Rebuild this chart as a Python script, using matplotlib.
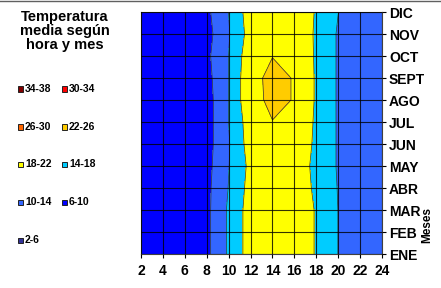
import matplotlib
matplotlib.use('Agg')
import matplotlib.pyplot as plt
from matplotlib.lines import Line2D
from matplotlib.patches import Rectangle
import numpy as np

# horas (columnas) y meses (filas)
horas = [2, 4, 6, 8, 10, 12, 14, 16, 18, 20, 22, 24]
meses = ['ENE', 'FEB', 'MAR', 'ABR', 'MAY', 'JUN', 'JUL', 'AGO', 'SEPT', 'OCT', 'NOV', 'DIC']

# temperatura media (C)
temp_ene = [9.2, 8.6, 8.3, 9.00, 14.56, 19.85, 21.2, 20.70, 17.70, 13.95, 12.5, 11.4]
temp_feb = [9.2, 8.6, 8.3, 9.00, 14.56, 19.85, 21.3, 20.70, 17.70, 13.95, 12.5, 11.4]
temp_mar = [9.1, 8.5, 8.2, 9.00, 14.56, 19.85, 21.3, 20.70, 17.70, 13.95, 12.6, 11.5]
temp_abr = [8.9, 8.3, 8.0, 8.97, 14.13, 19.47, 21.0, 20.65, 17.23, 13.83, 12.6, 11.5]
temp_may = [8.8, 8.2, 7.9, 8.71, 13.87, 19.03, 21.2, 19.98, 17.15, 13.65, 12.5, 11.5]
temp_jun = [8.7, 8.1, 7.8, 8.42, 13.69, 19.84, 21.5, 21.40, 17.15, 13.65, 12.4, 11.4]
temp_jul = [8.7, 8.1, 7.8, 8.28, 14.02, 20.14, 21.95, 20.27, 17.60, 13.60, 12.4, 11.4]
temp_ago = [8.7, 8.1, 7.8, 8.28, 14.02, 21.26, 22.49, 21.91, 17.57, 13.60, 12.4, 11.4]
temp_sep = [8.8, 8.2, 7.9, 8.66, 14.02, 21.26, 22.60, 21.89, 17.57, 13.60, 12.5, 11.5]
temp_oct = [9.0, 8.4, 8.1, 9.12, 14.02, 20.65, 21.95, 20.80, 17.60, 13.60, 12.5, 11.5]
temp_nov = [8.9, 8.3, 8.0, 8.53, 13.70, 19.63, 21.3, 20.27, 17.60, 13.60, 12.6, 11.5]
temp_dic = [9.0, 8.5, 8.2, 9.12, 14.02, 20.14, 21.4, 21.60, 17.60, 14.05, 13.0, 11.6]

# rangos de la leyenda
niveles = [2, 6, 10, 14, 18, 22, 26, 30, 34, 38]
colores = ['#333399', '#0000FF', '#3366FF', '#00CCFF', '#FFFF00',
           '#FFCC00', '#FF6600', '#FF0000', '#800000']
etiquetas = ['2-6', '6-10', '10-14', '14-18', '18-22', '22-26', '26-30', '30-34', '34-38']

Z = np.array([temp_ene, temp_feb, temp_mar, temp_abr, temp_may, temp_jun,
              temp_jul, temp_ago, temp_sep, temp_oct, temp_nov, temp_dic])
X, Y = np.meshgrid(horas, np.arange(1, 13))

plt.rcParams['font.family'] = ['Liberation Sans', 'DejaVu Sans']
fig = plt.figure(figsize=(4.41, 2.88), dpi=100)
ax = fig.add_axes([141 / 441, 34 / 288, 241 / 441, 242 / 288])

ax.contourf(X, Y, Z, levels=niveles, colors=colores)
ax.contour(X, Y, Z, levels=niveles, colors='#333333', linewidths=0.5)

ax.set_xlim(2, 24)
ax.set_ylim(1, 12)
ax.set_xticks(horas)
ax.set_yticks(range(1, 13))
ax.set_yticklabels(meses)
ax.yaxis.tick_right()
ax.tick_params(axis='both', labelsize=10, length=3, width=0.8, direction='out', pad=2)
ax.tick_params(axis='x', pad=4)
for lab in ax.get_xticklabels() + ax.get_yticklabels():
    lab.set_fontweight('bold')
ax.grid(True, color='black', linewidth=0.8, alpha=0.8)
ax.set_axisbelow(False)
for s in ax.spines.values():
    s.set_linewidth(0.8)
    s.set_color('#404040')

fig.text(427 / 441, 1 - 225 / 288, 'Meses', rotation=90, fontsize=8.5, fontweight='bold',
         ha='center', va='center')

# titulo a la izquierda
fig.text(65 / 441, 1 - 31 / 288, 'Temperatura\nmedia según\nhora y mes', fontsize=10.5,
         fontweight='bold', ha='center', va='center', linespacing=1.0)

# leyenda en dos columnas
filas_y = [89, 89, 127, 127, 164, 164, 202, 202, 240]
orden = [8, 7, 6, 5, 4, 3, 2, 1, 0]
for k, idx in enumerate(orden):
    col = k % 2
    yy = 1 - filas_y[k] / 288
    xm = (18 if col == 0 else 62) / 441
    fig.add_artist(Rectangle((xm, yy - 2.5 / 288), 5 / 441, 5 / 288, transform=fig.transFigure,
                             facecolor=colores[idx], edgecolor='#222222', linewidth=0.7))
    fig.text(xm + 7 / 441, yy, etiquetas[idx], fontsize=7.5, fontweight='bold',
             ha='left', va='center')

# borde superior de la hoja
fig.add_artist(Line2D([0, 1], [1 - 1 / 288, 1 - 1 / 288], color='#606060', linewidth=1.0))

fig.savefig('out.png', dpi=100)
